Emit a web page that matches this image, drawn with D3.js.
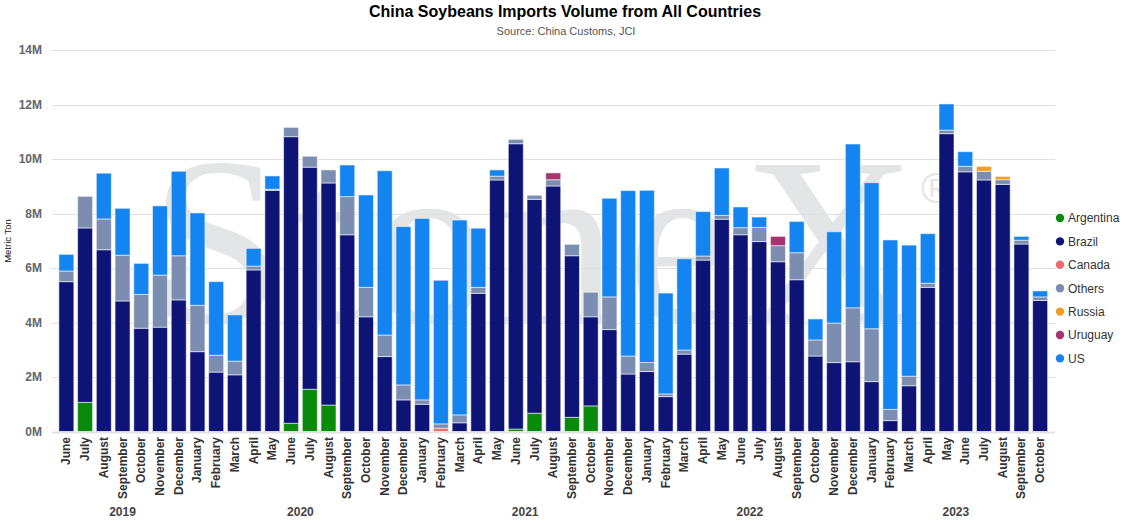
<!DOCTYPE html>
<html>
<head>
<meta charset="utf-8">
<script src="https://cdn.jsdelivr.net/npm/d3@7"></script>
<style>
  html, body { margin: 0; padding: 0; background: #fff; }
  svg { display: block; font-family: "Liberation Sans", Arial, Helvetica, sans-serif; }
</style>
</head>
<body>
<svg id="chart" width="1128" height="521"></svg>
<script>
// ---- Data (million metric tons) ----
const months = ["June","July","August","September","October","November","December",
  "January","February","March","April","May","June","July","August","September","October","November","December",
  "January","February","March","April","May","June","July","August","September","October","November","December",
  "January","February","March","April","May","June","July","August","September","October","November","December",
  "January","February","March","April","May","June","July","August","September","October"];
const years = ["2019","2020","2021","2022","2023"];
const yearOfMonth = [
  "2019","2019","2019","2019","2019","2019","2019",
  "2020","2020","2020","2020","2020","2020","2020","2020","2020","2020","2020","2020",
  "2021","2021","2021","2021","2021","2021","2021","2021","2021","2021","2021","2021",
  "2022","2022","2022","2022","2022","2022","2022","2022","2022","2022","2022","2022",
  "2023","2023","2023","2023","2023","2023","2023","2023","2023","2023"];

const argentina = [0,1.07,0,0,0,0,0, 0,0,0,0,0,0.30,1.55,0.97,0,0,0,0, 0,0,0,0,0,0.09,0.67,0,0.52,0.94,0,0, 0,0,0,0,0,0,0,0,0,0,0,0, 0,0,0,0,0,0,0,0,0,0];
const brazil = [5.50,6.40,6.67,4.79,3.79,3.83,4.83, 2.93,2.18,2.08,5.93,8.85,10.52,8.15,8.15,7.22,4.21,2.75,1.16, 1.00,0,0.32,5.07,9.23,10.47,7.85,9.01,5.93,3.27,3.74,2.11, 2.20,1.28,2.84,6.29,7.79,7.22,6.97,6.23,5.57,2.77,2.53,2.56, 1.83,0.40,1.68,5.29,10.93,9.53,9.23,9.07,6.88,4.81];
const canada = [0,0,0,0,0,0,0, 0,0,0,0,0,0,0,0,0,0,0,0, 0,0.12,0,0,0,0,0,0,0,0,0,0, 0,0,0,0,0,0,0,0,0,0,0,0, 0,0,0,0,0,0,0,0,0,0];
const others = [0.39,1.16,1.13,1.68,1.24,1.91,1.62, 1.70,0.62,0.50,0.14,0.04,0.34,0.40,0.48,1.40,1.08,0.79,0.55, 0.16,0.16,0.29,0.22,0.14,0.16,0.15,0.23,0.42,0.90,1.20,0.66, 0.33,0.10,0.15,0.15,0.14,0.26,0.52,0.59,0.99,0.59,1.45,1.98, 1.94,0.41,0.35,0.15,0.13,0.20,0.32,0.17,0.14,0.13];
const russia = [0,0,0,0,0,0,0, 0,0,0,0,0,0,0,0,0,0,0,0, 0,0,0,0,0,0,0,0,0,0,0,0, 0,0,0,0,0,0,0,0,0,0,0,0, 0,0,0,0,0,0,0.18,0.12,0,0];
const uruguay = [0,0,0,0,0,0,0, 0,0,0,0,0,0,0,0,0,0,0,0, 0,0,0,0,0,0,0,0.25,0,0,0,0, 0,0,0,0,0,0,0,0.34,0,0,0,0, 0,0,0,0,0,0,0,0,0,0];
const us = [0.61,0,1.68,1.72,1.14,2.54,3.10, 3.39,2.70,1.70,0.65,0.49,0,0,0,1.16,3.39,6.03,5.81, 6.66,5.27,7.15,2.17,0.23,0,0,0,0,0,3.62,6.07, 6.32,3.70,3.35,1.63,1.74,0.76,0.38,0,1.15,0.77,3.35,6.01, 5.36,6.22,4.81,1.82,0.96,0.54,0,0,0.14,0.22];

const seriesNames = ["Argentina","Brazil","Canada","Others","Russia","Uruguay","US"];
const seriesValues = [argentina, brazil, canada, others, russia, uruguay, us];
const yTicks = [0,2,4,6,8,10,12,14];

const colors = {
  Argentina: "#0a8a0a", Brazil: "#0e1476", Canada: "#f06b6b", Others: "#7b8db0",
  Russia: "#f29d22", Uruguay: "#a8336f", US: "#1484f0"
};

// ---- Build table ----
const table = months.map((m, i) => {
  const row = { idx: i, month: m, year: yearOfMonth[i] };
  seriesNames.forEach((s, k) => row[s] = seriesValues[k][i]);
  return row;
});

const svg = d3.select("#chart");
const W = 1128, H = 521;
const plotLeft = 52, plotRight = 1055, plotTop = 50, plotBottom = 431.5;

const x = d3.scaleBand().domain(d3.range(months.length)).range([57, 1049.5]).paddingInner(0.2).paddingOuter(0.1);
const y = d3.scaleLinear().domain([0, 14]).range([plotBottom, plotTop]);

// watermark (faint brand mark behind the plot)
const wm = svg.append("g").attr("fill", "#e4e5e7");
wm.append("text").attr("x", 150).attr("y", 322)
  .attr("font-family", "'Liberation Serif', 'DejaVu Serif', serif")
  .attr("font-size", 240)
  .attr("textLength", 766).attr("lengthAdjust", "spacing")
  .text("StoneX");
wm.append("text").attr("x", 921).attr("y", 203)
  .attr("font-family", "'Liberation Sans', Arial, sans-serif")
  .attr("font-size", 42).text("®");

// gridlines
svg.append("g").selectAll("line").data(yTicks.filter(t => t > 0)).join("line")
  .attr("x1", plotLeft).attr("x2", plotRight)
  .attr("y1", d => Math.round(y(d)) + 0.5).attr("y2", d => Math.round(y(d)) + 0.5)
  .attr("stroke", "#e0e0e0").attr("stroke-width", 1);

// y axis labels
svg.append("g").selectAll("text").data(yTicks).join("text")
  .attr("x", 42).attr("y", d => y(d) + 4)
  .attr("text-anchor", "end")
  .attr("font-size", 12).attr("font-weight", "bold").attr("fill", "#666")
  .text(d => d + "M");

// y axis title
svg.append("text")
  .attr("transform", "translate(11,241) rotate(-90)")
  .attr("text-anchor", "middle")
  .attr("font-size", 9.5).attr("fill", "#111")
  .text("Metric Ton");

// stacked bars
const stack = d3.stack().keys(seriesNames);
const stacked = stack(table);
const gBars = svg.append("g");
stacked.forEach(layer => {
  const key = layer.key;
  gBars.append("g").attr("fill", colors[key])
    .selectAll("rect").data(layer.filter(d => d[1] - d[0] > 0)).join("rect")
    .attr("x", d => x(d.data.idx))
    .attr("width", x.bandwidth())
    .attr("y", d => y(d[1]))
    .attr("height", d => y(d[0]) - y(d[1]))
    .attr("stroke", "#ffffff").attr("stroke-opacity", 0.55).attr("stroke-width", 1);
});

// x axis line
svg.append("line").attr("x1", plotLeft).attr("x2", plotRight)
  .attr("y1", plotBottom + 1).attr("y2", plotBottom + 1)
  .attr("stroke", "#e3e3e3").attr("stroke-width", 2);

// x labels (months)
svg.append("g").selectAll("text").data(table).join("text")
  .attr("transform", d => `translate(${x(d.idx) + x.bandwidth() / 2 + 4},437) rotate(-90)`)
  .attr("text-anchor", "end")
  .attr("font-size", 12).attr("font-weight", "bold").attr("fill", "#333")
  .text(d => d.month);

// year labels
svg.append("g").selectAll("text").data(years).join("text")
  .attr("x", yr => {
    const idxs = table.filter(d => d.year === yr).map(d => d.idx);
    const a = x(d3.min(idxs)) + x.bandwidth() / 2, b = x(d3.max(idxs)) + x.bandwidth() / 2;
    return (a + b) / 2;
  })
  .attr("y", 516)
  .attr("text-anchor", "middle")
  .attr("font-size", 12).attr("font-weight", "bold").attr("fill", "#444")
  .text(yr => yr);

// title
svg.append("text").attr("x", W / 2 + 1).attr("y", 17)
  .attr("text-anchor", "middle").attr("font-size", 16).attr("font-weight", "bold").attr("fill", "#000")
  .text("China Soybeans Imports Volume from All Countries");
svg.append("text").attr("x", W / 2 + 2).attr("y", 35)
  .attr("text-anchor", "middle").attr("font-size", 11).attr("fill", "#555")
  .text("Source: China Customs, JCI");

// legend
const lg = svg.append("g").selectAll("g").data(seriesNames).join("g")
  .attr("transform", (d, i) => `translate(1060,${218 + i * 23.4})`);
lg.append("circle").attr("r", 4.2).attr("fill", d => colors[d]);
lg.append("text").attr("x", 8).attr("y", 4.3)
  .attr("font-size", 12).attr("fill", "#333").text(d => d);
</script>
</body>
</html>
